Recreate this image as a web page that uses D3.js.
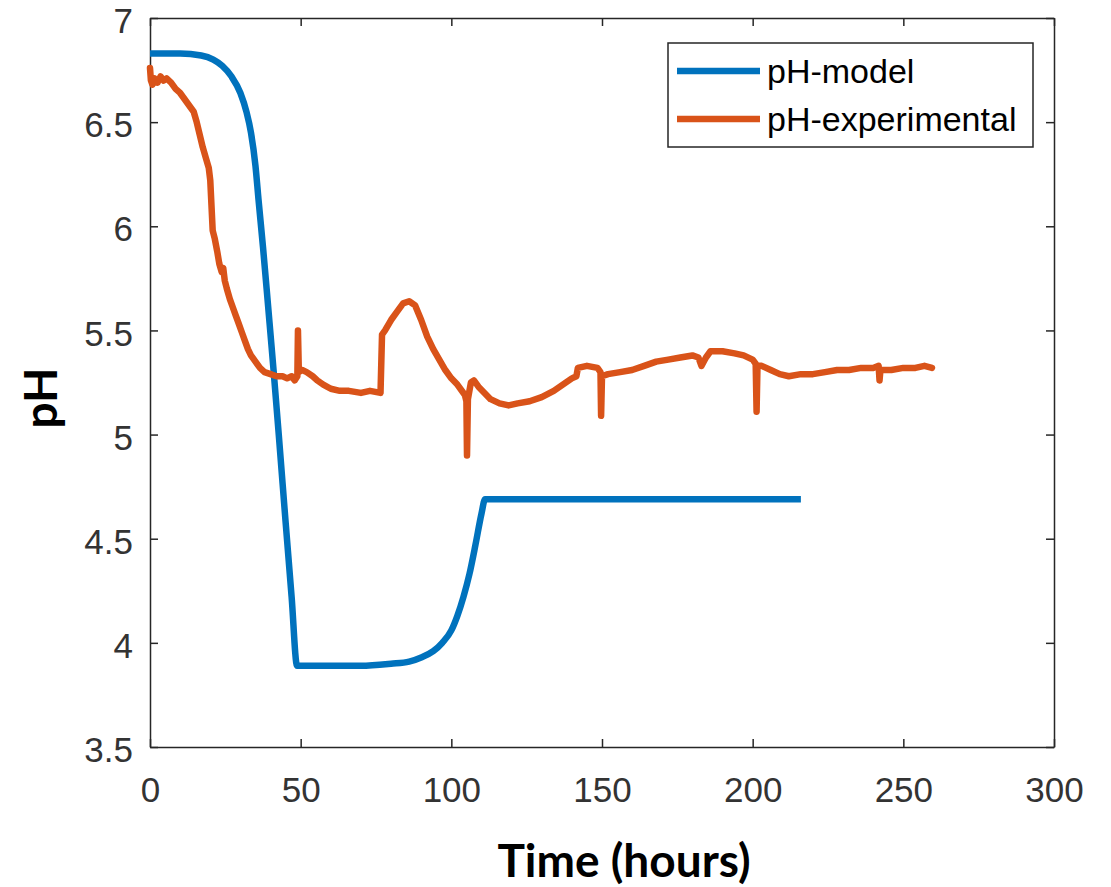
<!DOCTYPE html>
<html>
<head>
<meta charset="utf-8">
<script src="https://cdn.jsdelivr.net/npm/d3@7"></script>
<style>
  body { margin: 0; background: #fff; }
  .tick text { font-family: "Liberation Sans", Arial, sans-serif; }
</style>
</head>
<body>
<div id="chart"></div>
<script>
// model curve (hours, pH)
const modelTime = [0, 10, 17, 21, 24, 27, 30, 32, 33.5, 35, 36, 37.5, 39, 40, 41, 43, 45, 47, 48.8,
  60, 70, 80, 86, 90, 94, 97, 100, 102, 104, 106, 108, 110, 111.2, 216];
const modelPH = [6.83, 6.83, 6.82, 6.80, 6.77, 6.72, 6.64, 6.55, 6.45, 6.29, 6.13, 5.90, 5.65, 5.48, 5.31, 4.95, 4.58, 4.22, 3.89,
  3.89, 3.89, 3.90, 3.91, 3.93, 3.96, 4.00, 4.06, 4.13, 4.22, 4.33, 4.47, 4.62, 4.69, 4.69];

// experimental readings (hours, pH)
const expTime = [0, 0.3, 0.8, 1.5, 2.5, 3.5, 4.5, 5.5, 7, 8.5, 10, 11.5, 13, 14.5, 15.5, 16.5, 17.5, 18.5, 19.5, 20,
  20.4, 20.8, 21.5, 22.3, 23, 23.8, 24.3, 24.8, 25.5, 26.5, 27.5, 28.5, 29.5, 30.5, 31.5, 32.5, 33.5, 35, 36.5, 38,
  40, 42, 44, 45.5, 47, 48, 48.9, 49.1, 49.4, 50.5, 52, 54, 55.5, 57.5, 60, 63, 66, 70, 73, 76.5,
  77, 78, 80, 82, 84, 86, 88, 90, 92, 94, 96, 98, 100, 102, 104.5, 105, 105.2, 105.5, 106.5, 107.5,
  109, 111, 113, 116, 119, 122, 126, 130, 134, 137, 140, 141.5, 142, 145, 148.5, 149.5, 149.7, 150, 152, 156,
  160, 164, 168, 172, 176, 180, 182, 183, 184.5, 186, 190, 194, 197, 200, 201, 201.3, 201.6, 203, 206, 209,
  212, 216, 220, 224, 228, 232, 236, 240, 241.8, 242.1, 242.4, 246, 250, 254, 257, 259.5];
const expPH = [6.76, 6.70, 6.68, 6.71, 6.69, 6.72, 6.70, 6.71, 6.69, 6.66, 6.64, 6.61, 6.58, 6.55, 6.50, 6.44, 6.38, 6.33, 6.28, 6.22,
  6.10, 5.98, 5.94, 5.88, 5.82, 5.78, 5.80, 5.74, 5.70, 5.65, 5.61, 5.57, 5.53, 5.49, 5.45, 5.41, 5.38, 5.35, 5.32, 5.30,
  5.29, 5.28, 5.28, 5.27, 5.28, 5.26, 5.28, 5.50, 5.30, 5.31, 5.30, 5.28, 5.26, 5.24, 5.22, 5.21, 5.21, 5.20, 5.21, 5.20,
  5.48, 5.50, 5.55, 5.59, 5.63, 5.64, 5.62, 5.55, 5.47, 5.41, 5.36, 5.31, 5.27, 5.24, 5.19, 5.16, 4.90, 5.17, 5.25, 5.26,
  5.23, 5.20, 5.17, 5.15, 5.14, 5.15, 5.16, 5.18, 5.21, 5.24, 5.27, 5.28, 5.32, 5.33, 5.32, 5.30, 5.09, 5.28, 5.29, 5.30,
  5.31, 5.33, 5.35, 5.36, 5.37, 5.38, 5.37, 5.33, 5.37, 5.40, 5.40, 5.39, 5.38, 5.36, 5.34, 5.11, 5.33, 5.33, 5.31, 5.29,
  5.28, 5.29, 5.29, 5.30, 5.31, 5.31, 5.32, 5.32, 5.33, 5.26, 5.31, 5.31, 5.32, 5.32, 5.33, 5.32];

const xTicks = [0, 50, 100, 150, 200, 250, 300];
const yTicks = [3.5, 4, 4.5, 5, 5.5, 6, 6.5, 7];
const seriesNames = ["pH-model", "pH-experimental"];
const seriesColors = ["#0072BD", "#D95319"];

const modelData = modelTime.map((t, i) => ({ t: t, ph: modelPH[i] }));
const expData = expTime.map((t, i) => ({ t: t, ph: expPH[i] }));

const margin = { top: 18, right: 57, bottom: 140, left: 150 };
const width = 1111 - margin.left - margin.right;
const height = 887 - margin.top - margin.bottom;
const axisColor = "#262626";

const svg = d3.select("#chart").append("svg")
    .attr("width", 1111)
    .attr("height", 887)
    .append("g")
    .attr("transform", `translate(${margin.left}, ${margin.top})`);

const xScale = d3.scaleLinear().domain([0, 300]).range([0, width]);
const yScale = d3.scaleLinear().domain([3.5, 7]).range([height, 0]);

// axes, ticks pointing inward like matlab
function styleAxis(g) {
    g.select(".domain").attr("stroke", axisColor).attr("stroke-width", 1.5);
    g.selectAll(".tick line").attr("stroke", axisColor).attr("stroke-width", 1.5);
    g.selectAll(".tick text").attr("fill", "#333").style("font-size", "35px");
}

svg.append("g")
    .attr("transform", `translate(0, ${height})`)
    .call(d3.axisBottom(xScale).tickValues(xTicks).tickSizeInner(-8).tickSizeOuter(0).tickPadding(30))
    .call(styleAxis);

svg.append("g")
    .call(d3.axisTop(xScale).tickValues(xTicks).tickSizeInner(-8).tickSizeOuter(0).tickFormat(""))
    .call(styleAxis);

svg.append("g")
    .call(d3.axisLeft(yScale).tickValues(yTicks).tickSizeInner(-8).tickSizeOuter(0).tickPadding(17).tickFormat(d3.format("")))
    .call(styleAxis)
    .selectAll(".tick text").attr("dy", "0.42em");

svg.append("g")
    .attr("transform", `translate(${width}, 0)`)
    .call(d3.axisRight(yScale).tickValues(yTicks).tickSizeInner(-8).tickSizeOuter(0).tickFormat(""))
    .call(styleAxis);

const line = d3.line()
    .x(d => xScale(d.t))
    .y(d => yScale(d.ph));

svg.append("path")
    .datum(modelData)
    .attr("fill", "none")
    .attr("stroke", seriesColors[0])
    .attr("stroke-width", 6.5)
    .attr("stroke-linejoin", "round")
    .attr("d", line.curve(d3.curveMonotoneX));

svg.append("path")
    .datum(expData)
    .attr("fill", "none")
    .attr("stroke", seriesColors[1])
    .attr("stroke-width", 6.5)
    .attr("stroke-linejoin", "round")
    .attr("stroke-linecap", "round")
    .attr("d", line.curve(d3.curveLinear));

// axis titles
svg.append("text")
    .attr("x", width / 2 + 22)
    .attr("y", height + 130)
    .attr("text-anchor", "middle")
    .style("font-family", "Lato, 'Open Sans', sans-serif")
    .style("font-weight", "bold")
    .style("font-size", "46px")
    .text("Time (hours)");

svg.append("text")
    .attr("transform", `translate(${-111}, ${380}) rotate(-90)`)
    .attr("text-anchor", "middle")
    .attr("dominant-baseline", "central")
    .style("font-family", "Lato, 'Open Sans', sans-serif")
    .style("font-weight", "bold")
    .style("font-size", "46px")
    .text("pH");

// legend
const legend = svg.append("g").attr("transform", `translate(${518}, ${25})`);
legend.append("rect")
    .attr("width", 365)
    .attr("height", 104)
    .attr("fill", "#fff")
    .attr("stroke", axisColor)
    .attr("stroke-width", 1.5);

const item = legend.selectAll(".legend")
    .data(seriesNames)
    .enter().append("g")
    .attr("class", "legend")
    .attr("transform", (d, i) => `translate(0, ${28 + i * 48})`);

item.append("line")
    .attr("x1", 9).attr("x2", 92)
    .attr("stroke", (d, i) => seriesColors[i])
    .attr("stroke-width", 6.5);

item.append("text")
    .attr("x", 99)
    .attr("dy", "0.36em")
    .style("font-family", "'Liberation Sans', Arial, sans-serif")
    .style("font-size", "34px")
    .attr("fill", "#000")
    .text(d => d);
</script>
</body>
</html>
